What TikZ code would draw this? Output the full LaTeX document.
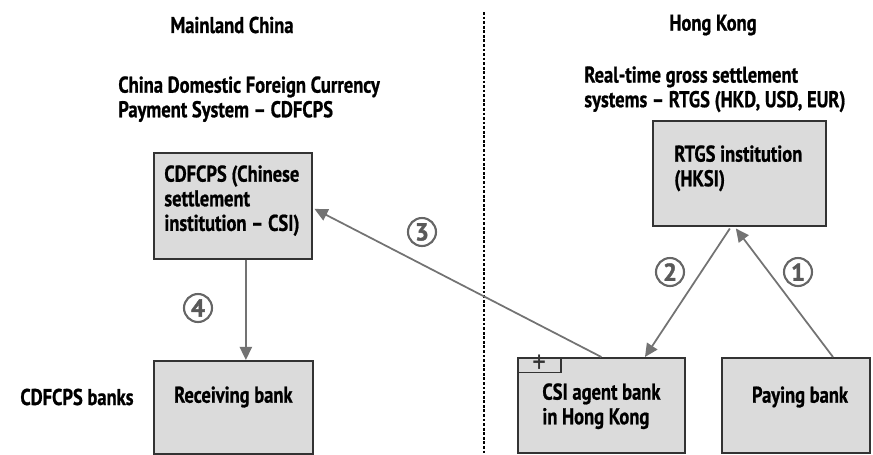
\documentclass[tikz,border=0pt]{standalone}
\usepackage{fontspec}
\setmainfont[FakeStretch=0.81, BoldFont={PT Sans Bold}, BoldFeatures={FakeBold=0.8}]{PT Sans}
\newfontfamily\stepfont[FakeBold=1.6]{PT Sans Bold}
\usetikzlibrary{arrows.meta}

\begin{document}
\begin{tikzpicture}[x=0.02cm,y=-0.02cm,
    bank/.style={draw=black!80, line width=1pt, fill=black!14, inner sep=0pt, anchor=north west},
    lbl/.style={font=\bfseries\fontsize{13}{14}\selectfont, align=left, inner sep=0pt},
    flow/.style={draw=black!55, line width=1pt, -{Triangle[length=7.5pt,width=7pt]}},
    stepnum/.style={circle, draw=black!60, line width=1.2pt, text=black!65, inner sep=0pt,
        minimum size=0.56cm, font=\stepfont\fontsize{14}{14}\selectfont}
]
    \useasboundingbox (0,0) rectangle (873,454);

    % \draw[help lines] (0,0) grid (873,454);
    \draw[line width=1.3pt, dash pattern=on 1.6pt off 1pt] (484,12) -- (484,454);

    \node[lbl] (mainland) at (232,25) {Mainland China};
    \node[lbl] (hongkong) at (713,25) {Hong Kong};
    \node[lbl, anchor=north west] (cdfcpssys) at (118,76) {China Domestic Foreign Currency\\Payment System -- CDFCPS};
    \node[lbl, anchor=north west] (rtgssys) at (584,66) {Real-time gross settlement\\systems -- RTGS (HKD, USD, EUR)};

    % boxes
    \node[bank, minimum width=3.16cm, minimum height=2.12cm] (cdfcps) at (153,152) {};
    \node[bank, minimum width=3.46cm, minimum height=2.1cm] (rtgs) at (652,120) {};
    \node[bank, minimum width=3.18cm, minimum height=1.86cm] (receiving) at (153,360) {};
    \node[bank, minimum width=3.34cm, minimum height=1.9cm] (csi) at (517,357) {};
    \node[bank, minimum width=2.96cm, minimum height=1.9cm] (paying) at (721,357) {};
    \node[bank, minimum width=0.86cm, minimum height=0.29cm, line width=0.9pt] (tab) at (517,357) {};
    \node[font=\fontsize{19}{19}\selectfont, inner sep=0pt, text=black!80] (plus) at ([yshift=0.5pt]tab.center) {+};

    \node[lbl, anchor=north west] (cdfcpstext) at (164,165) {CDFCPS (Chinese\\settlement\\institution -- CSI)};
    \node[lbl, anchor=north west] (rtgstext) at (674,145) {RTGS institution\\(HKSI)};
    \node[lbl] (receivingtext) at (receiving.center |- 0,397) {Receiving bank};
    \node[lbl, anchor=north west] (csitext) at (542,383) {CSI agent bank\\in Hong Kong};
    \node[lbl] (payingtext) at (800,397) {Paying bank};
    \node[lbl, anchor=west] (banks) at (20,397) {CDFCPS banks};

    % flows
    \draw[flow] ([xshift=2.24cm]paying.north west) -- ([xshift=-0.07cm,yshift=-1pt]rtgs.south);
    \draw[flow] ([xshift=-0.19cm,yshift=-1pt]rtgs.south) -- ([xshift=2.56cm]csi.north west);
    \draw[flow] (csi.north) -- ([xshift=1pt,yshift=-0.06cm]cdfcps.east);
    \draw[flow] ([xshift=0.26cm]cdfcps.south) -- ([xshift=0.25cm]receiving.north);

    \node[stepnum] (one) at (798,272) {1};
    \node[stepnum] (two) at (670,272) {2};
    \node[stepnum] (three) at (422,232) {3};
    \node[stepnum] (four) at (198,308) {4};
\end{tikzpicture}
\end{document}
